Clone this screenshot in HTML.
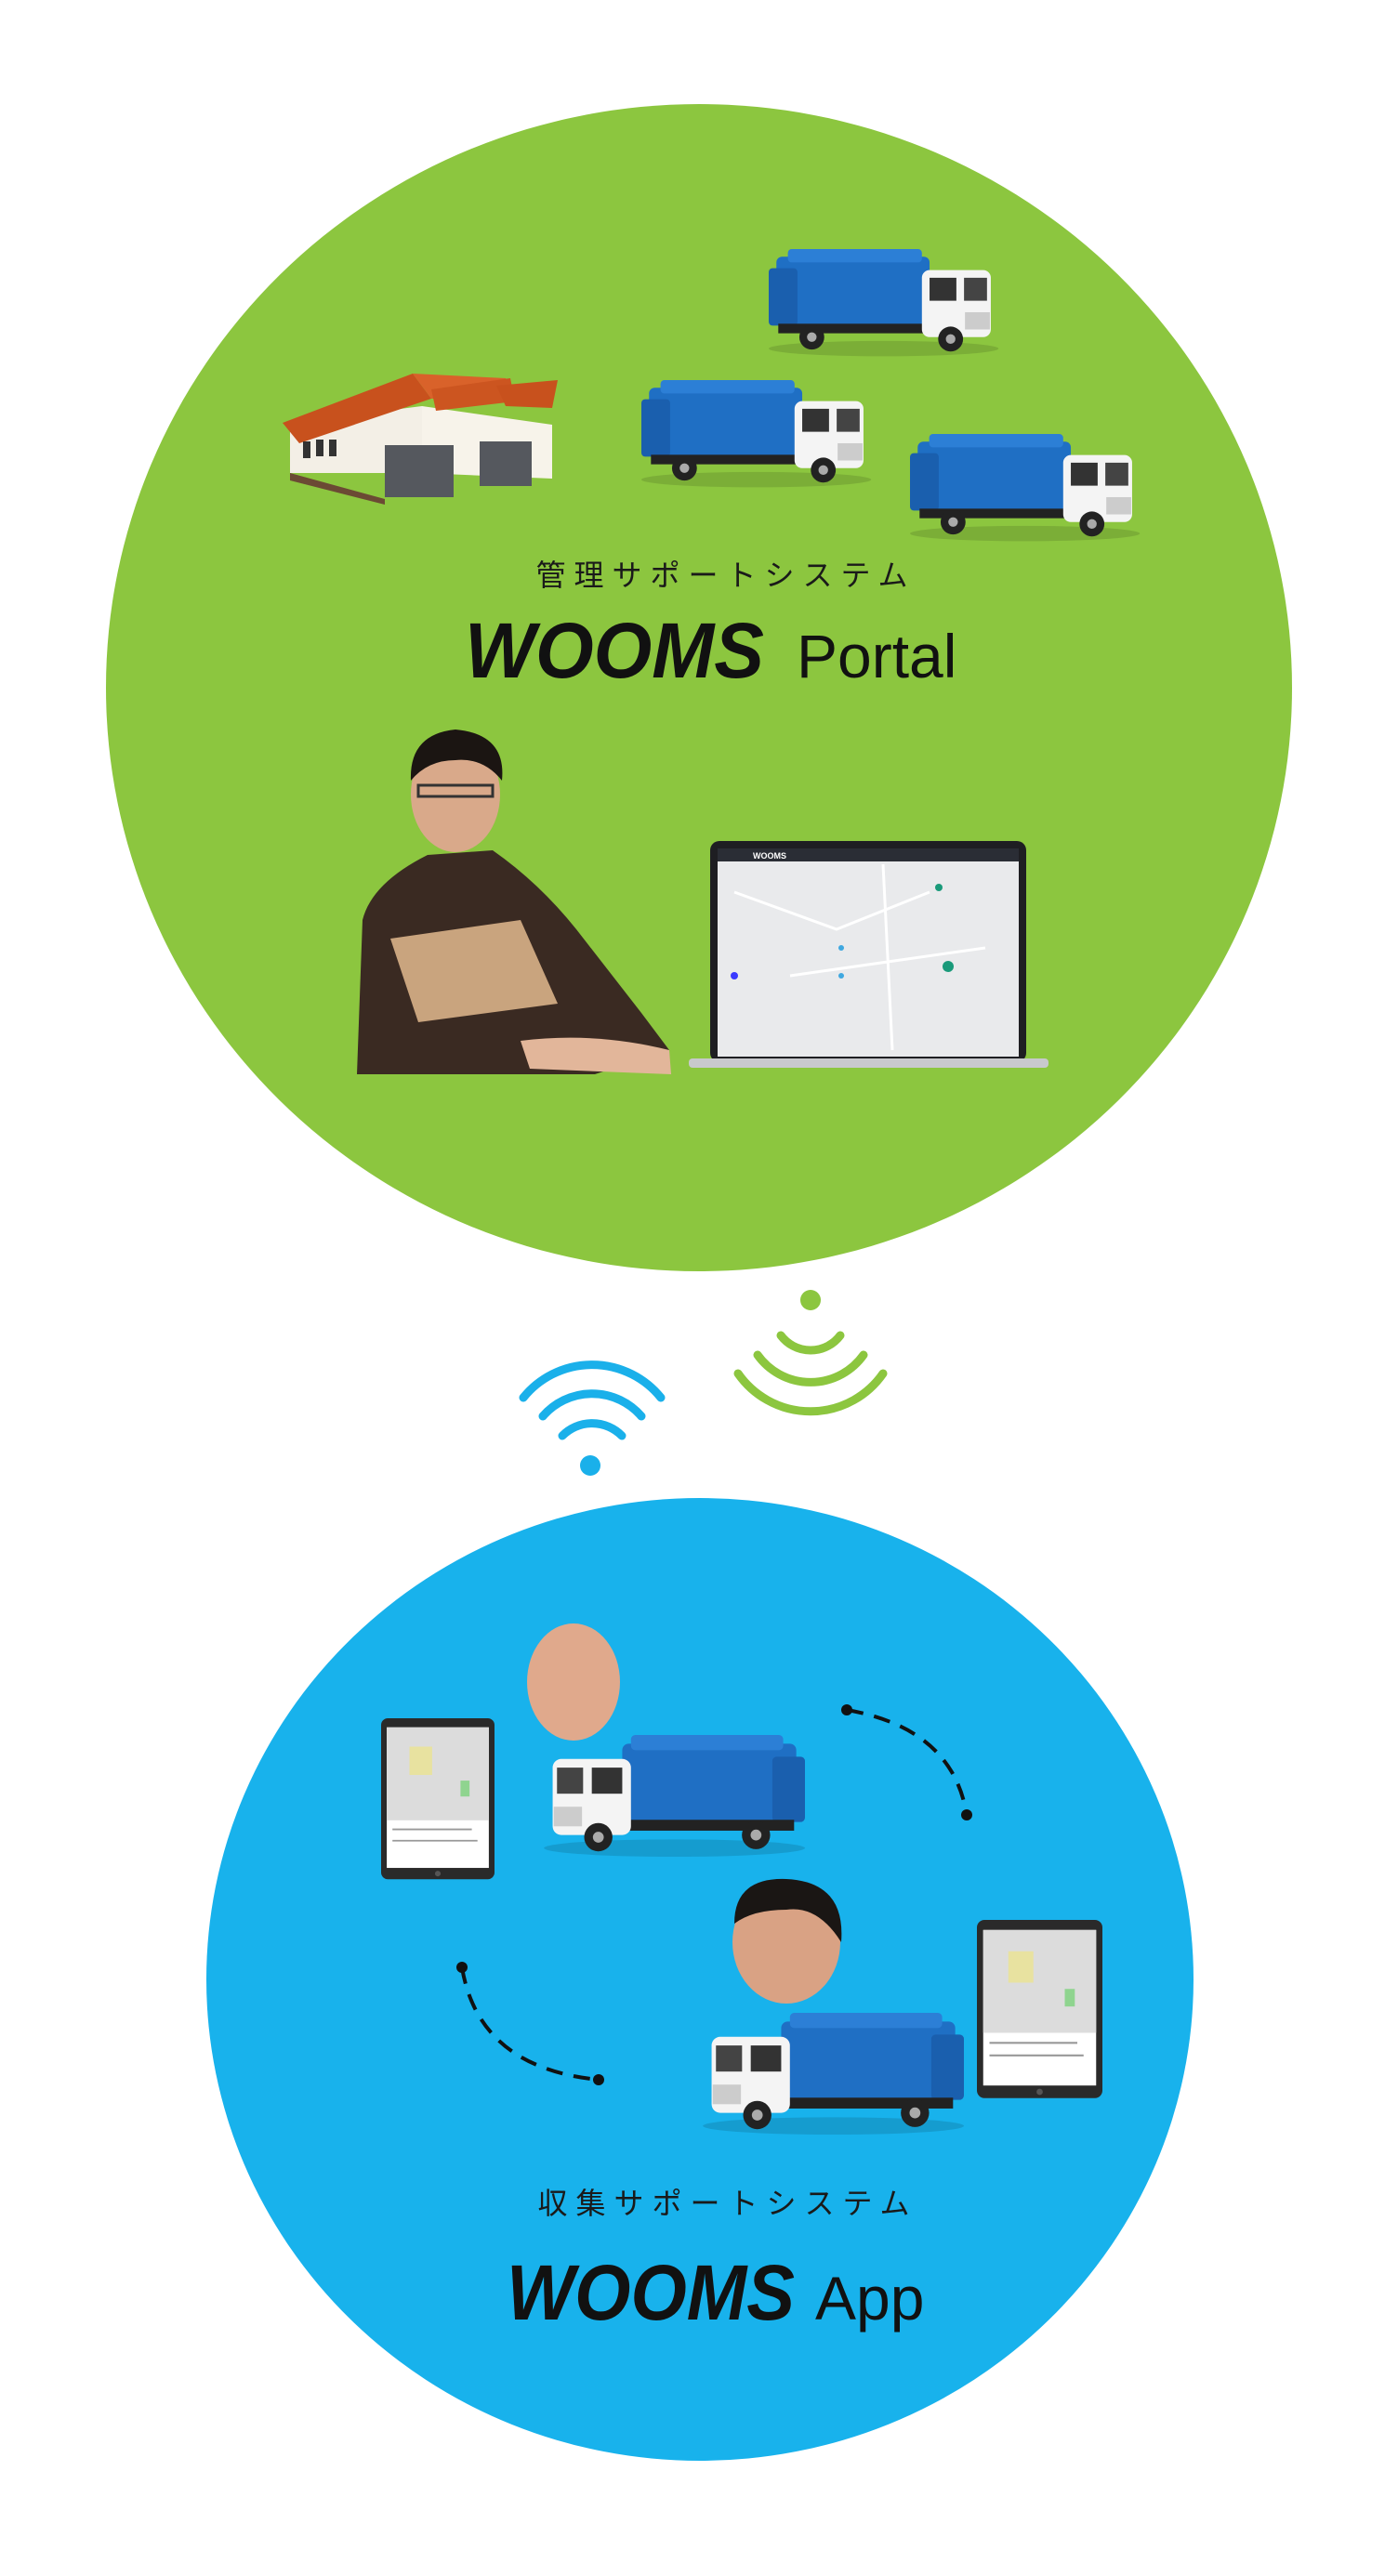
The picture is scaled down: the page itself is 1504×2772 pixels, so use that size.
<!DOCTYPE html>
<html><head><meta charset="utf-8"><style>
html,body{margin:0;padding:0;background:#fff}
svg{display:block}
.jp{font-family:"Liberation Sans","Noto Sans CJK JP",sans-serif}
</style></head><body>
<svg width="1504" height="2772" viewBox="0 0 1504 2772" xmlns="http://www.w3.org/2000/svg">
<defs>
<g id="truckR">
 <ellipse cx="120" cy="104" rx="120" ry="8" fill="#000" opacity="0.12"/>
 <rect x="8" y="8" width="160" height="72" rx="6" fill="#1f6fc4"/>
 <rect x="0" y="20" width="30" height="60" rx="4" fill="#1a5fae"/>
 <rect x="20" y="0" width="140" height="14" rx="4" fill="#2c7fd6"/>
 <rect x="10" y="78" width="170" height="10" fill="#222"/>
 <rect x="160" y="22" width="72" height="70" rx="8" fill="#f4f4f4"/>
 <rect x="168" y="30" width="28" height="24" fill="#333"/>
 <rect x="204" y="30" width="24" height="24" fill="#444"/>
 <rect x="205" y="66" width="26" height="18" fill="#ccc"/>
 <circle cx="45" cy="92" r="13" fill="#222"/><circle cx="45" cy="92" r="5" fill="#aaa"/>
 <circle cx="190" cy="94" r="13" fill="#222"/><circle cx="190" cy="94" r="5" fill="#aaa"/>
</g>
<g id="tablet">
 <rect x="0" y="0" width="100" height="142" rx="6" fill="#2a2a2a"/>
 <rect x="5" y="8" width="90" height="124" fill="#fff"/>
 <rect x="5" y="8" width="90" height="82" fill="#dcdcdc"/>
 <rect x="25" y="25" width="20" height="25" fill="#e8e2a0"/>
 <rect x="70" y="55" width="8" height="14" fill="#8fd48f"/>
 <line x1="10" y1="98" x2="80" y2="98" stroke="#999" stroke-width="1.5"/>
 <line x1="10" y1="108" x2="85" y2="108" stroke="#999" stroke-width="1.5"/>
 <circle cx="50" cy="137" r="2.5" fill="#555"/>
</g>
</defs>

<!-- green circle -->
<ellipse cx="752" cy="740" rx="638" ry="628" fill="#8cc63f"/>

<!-- house -->
<g transform="translate(304,397)">
 <polygon points="8,112 8,58 150,40 150,112" fill="#f3efe6"/>
 <polygon points="150,40 290,60 290,118 150,112" fill="#f7f3ea"/>
 <polygon points="0,58 140,5 160,32 18,80" fill="#c8511d"/>
 <polygon points="140,5 240,10 256,30 160,32" fill="#d9622a"/>
 <polygon points="160,22 245,10 250,35 165,45" fill="#cc5520"/>
 <polygon points="230,18 296,12 290,42 240,40" fill="#c8511d"/>
 <rect x="110" y="82" width="74" height="56" fill="#55585e"/>
 <rect x="212" y="78" width="56" height="48" fill="#55585e"/>
 <rect x="22" y="78" width="8" height="18" fill="#333"/><rect x="36" y="76" width="8" height="18" fill="#333"/><rect x="50" y="76" width="8" height="18" fill="#333"/>
 <polygon points="8,112 110,140 110,146 8,120" fill="#6b4a34"/>
</g>
<!-- trucks top -->
<use href="#truckR" transform="translate(827,268) scale(1.03)"/>
<use href="#truckR" transform="translate(690,409) scale(1.03)"/>
<use href="#truckR" transform="translate(979,467) scale(1.03)"/>

<text x="781" y="630" text-anchor="middle" class="jp" font-size="32" letter-spacing="9" fill="#1a1a1a">管理サポートシステム</text>
<text x="500" y="729" font-family="'Liberation Sans',sans-serif" font-weight="bold" font-style="italic" font-size="84" fill="#111" textLength="322" lengthAdjust="spacingAndGlyphs">WOOMS</text>
<text x="857" y="729" font-family="'Liberation Sans',sans-serif" font-size="66" fill="#111">Portal</text>

<!-- person -->
<g>
 <ellipse cx="490" cy="855" rx="48" ry="62" fill="#d9a98a"/>
 <path d="M442 840 Q440 790 490 785 Q545 790 540 840 Q520 815 490 818 Q460 818 442 840Z" fill="#1b1512"/>
 <rect x="450" y="845" width="80" height="12" fill="none" stroke="#333" stroke-width="3"/>
 <path d="M384 1156 L390 990 Q400 950 460 920 L530 915 Q580 950 620 1000 L690 1090 L720 1130 L640 1156Z" fill="#3a2a22"/>
 <path d="M420 1010 L560 990 L600 1080 L450 1100Z" fill="#c9a47e"/>
 <path d="M560 1120 Q640 1110 720 1130 L722 1156 L570 1150Z" fill="#e2b69a"/>
</g>
<!-- laptop -->
<g>
 <rect x="764" y="905" width="340" height="238" rx="10" fill="#1e1e22"/>
 <rect x="772" y="925" width="324" height="212" fill="#e9eaec"/>
 <rect x="772" y="913" width="324" height="14" fill="#2a2d35"/>
 <text x="810" y="924" font-family="'Liberation Sans',sans-serif" font-size="9" font-weight="bold" fill="#fff">WOOMS</text>
 <path d="M790 960 L900 1000 L1000 960 M850 1050 L1060 1020 M950 930 L960 1130" stroke="#fff" stroke-width="3" fill="none"/>
 <circle cx="1010" cy="955" r="4" fill="#1a9a7a"/><circle cx="1020" cy="1040" r="6" fill="#1a9a7a"/><circle cx="905" cy="1020" r="3" fill="#3fa8e0"/><circle cx="905" cy="1050" r="3" fill="#3fa8e0"/><circle cx="790" cy="1050" r="4" fill="#3a3aff"/>
 <rect x="741" y="1139" width="387" height="10" rx="4" fill="#c8c9cc"/>
</g>

<!-- wifi icons -->
<g fill="none" stroke="#1ab0ea" stroke-width="9" stroke-linecap="round">
 <path d="M563 1504 A95 95 0 0 1 711 1504"/>
 <path d="M584 1524 A70 70 0 0 1 690 1524"/>
 <path d="M605 1545 A45 45 0 0 1 669 1545"/>
</g>
<circle cx="635" cy="1577" r="11" fill="#1ab0ea"/>
<g fill="none" stroke="#8cc63f" stroke-width="9" stroke-linecap="round">
 <path d="M794 1478 A95 95 0 0 0 950 1478"/>
 <path d="M815 1458 A70 70 0 0 0 929 1458"/>
 <path d="M840 1437 A40 40 0 0 0 904 1437"/>
</g>
<circle cx="872" cy="1399" r="11" fill="#8cc63f"/>

<!-- blue circle -->
<ellipse cx="753" cy="2130" rx="531" ry="518" fill="#18b2ec"/>

<!-- dashed arcs -->
<circle cx="911" cy="1840" r="6" fill="#111"/>
<circle cx="1040" cy="1953" r="6" fill="#111"/>
<path d="M911 1840 Q1025 1860 1040 1953" fill="none" stroke="#111" stroke-width="4" stroke-dasharray="18 12"/>
<circle cx="497" cy="2117" r="6" fill="#111"/>
<circle cx="644" cy="2238" r="6" fill="#111"/>
<path d="M497 2117 Q515 2225 644 2238" fill="none" stroke="#111" stroke-width="4" stroke-dasharray="18 12"/>

<!-- tablets -->
<use href="#tablet" transform="translate(410,1849) scale(1.22)"/>
<use href="#tablet" transform="translate(1051,2066) scale(1.35)"/>

<!-- faces + trucks bottom -->
<ellipse cx="617" cy="1810" rx="50" ry="63" fill="#e0a98c"/>
<ellipse cx="846" cy="2090" rx="58" ry="66" fill="#d9a284"/>
<path d="M790 2070 Q790 2020 846 2022 Q910 2025 905 2090 Q880 2050 846 2055 Q810 2055 790 2070Z" fill="#1a1614"/>
<use href="#truckR" transform="translate(866,1867) scale(-1.17,1.17)"/>
<use href="#truckR" transform="translate(1037,2166) scale(-1.17,1.17)"/>

<text x="783" y="2382" text-anchor="middle" class="jp" font-size="32" letter-spacing="9" fill="#1a1a1a">収集サポートシステム</text>
<text x="545" y="2496" font-family="'Liberation Sans',sans-serif" font-weight="bold" font-style="italic" font-size="84" fill="#111" textLength="310" lengthAdjust="spacingAndGlyphs">WOOMS</text>
<text x="877" y="2496" font-family="'Liberation Sans',sans-serif" font-size="66" fill="#111">App</text>
</svg>
</body></html>
